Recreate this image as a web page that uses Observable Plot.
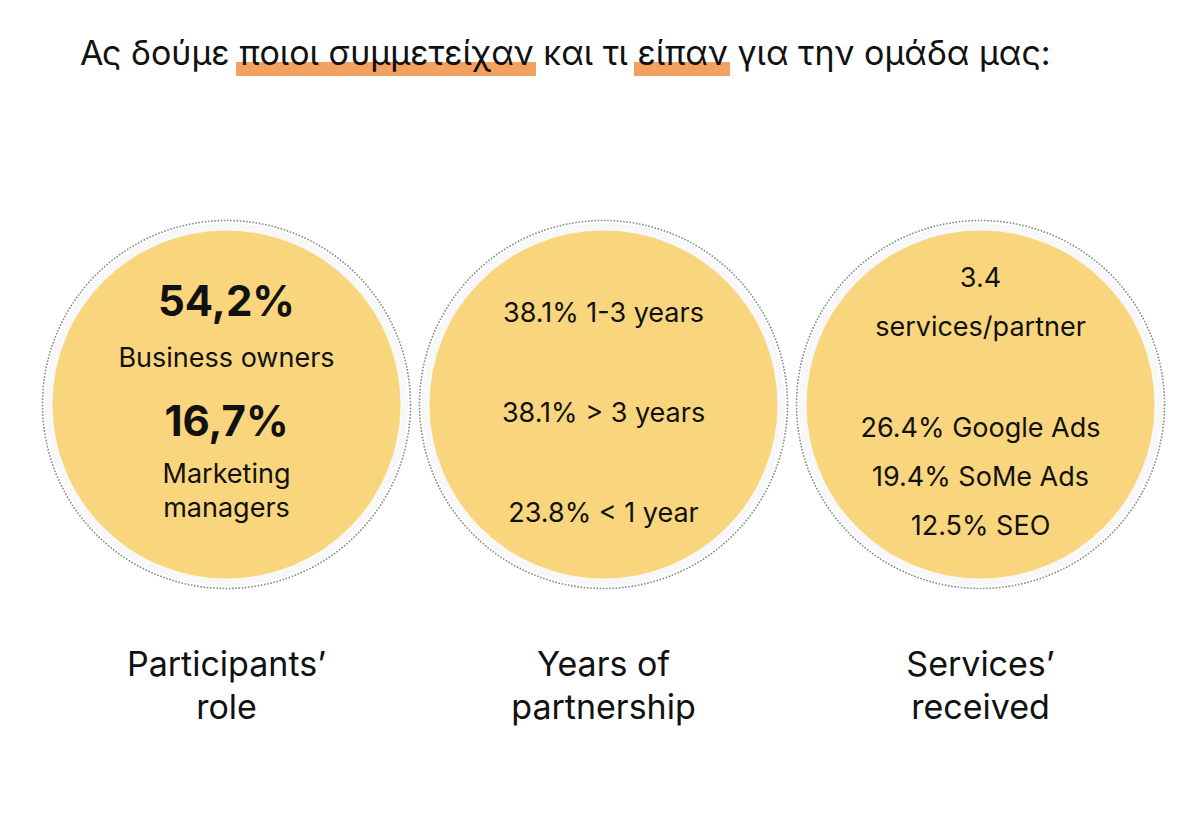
<!DOCTYPE html>
<html>
<head>
<meta charset="utf-8">
<script src="https://cdn.jsdelivr.net/npm/d3@7"></script>
<script src="https://cdn.jsdelivr.net/npm/@observablehq/plot@0.6"></script>
<style>
  html, body { margin: 0; padding: 0; background: #fff; }
  body { width: 1200px; height: 831px; overflow: hidden; font-family: Inter, "Noto Sans", sans-serif; }
  #title { position: relative; z-index: 0; height: 100px; box-sizing: border-box;
           padding: 33px 0 0 80px; font: 400 34px Inter, sans-serif; line-height: 40px; color: #111; white-space: nowrap; }
  .hl { position: relative; }
  .hl::before { content: ""; position: absolute; left: -3px; right: -2px; top: 30px; height: 14px;
                background: #F4A05E; z-index: -1; }
  #chart svg { display: block; }
</style>
</head>
<body>
<div id="title"></div>
<div id="chart"></div>
<script>
// ---- data ----
const titleParts = ["Ας δούμε ", "ποιοι συμμετείχαν", " και τι ", "είπαν", " για την ομάδα μας:"];
const highlighted = [false, true, false, true, false];

const panels = ["Participants’ role", "Years of partnership", "Services’ received"];
const panelLabels = ["Participants’\nrole", "Years of\npartnership", "Services’\nreceived"];

const roleShares = ["54,2%", "16,7%"];
const roleNames = ["Business owners", "Marketing\nmanagers"];

const yearShares = ["38.1%", "38.1%", "23.8%"];
const yearRanges = ["1-3 years", "> 3 years", "< 1 year"];

const servicesPerPartner = "3.4";
const servicesUnit = "services/partner";
const serviceShares = ["26.4%", "19.4%", "12.5%"];
const serviceNames = ["Google Ads", "SoMe Ads", "SEO"];

// ---- title ----
const title = document.getElementById("title");
titleParts.forEach((t, i) => {
  const s = document.createElement("span");
  s.textContent = t;
  if (highlighted[i]) s.className = "hl";
  title.appendChild(s);
});

// ---- layout (offsets from circle centre, px) ----
const bold = [], regular = [];
bold.push({panel: panels[0], y: -102, text: roleShares[0]});
regular.push({panel: panels[0], y: -48, text: roleNames[0]});
bold.push({panel: panels[0], y: 18, text: roleShares[1]});
regular.push({panel: panels[0], y: 85, text: roleNames[1]});
yearShares.forEach((v, i) => regular.push({panel: panels[1], y: -93 + i * 100, text: v + " " + yearRanges[i]}));
regular.push({panel: panels[2], y: -128, text: servicesPerPartner});
regular.push({panel: panels[2], y: -79, text: servicesUnit});
serviceShares.forEach((v, i) => regular.push({panel: panels[2], y: 22 + i * 49, text: v + " " + serviceNames[i]}));

const labels = panels.map((p, i) => ({panel: p, text: panelLabels[i]}));

const H = 731, CY = 304;
const circleMarks = panels.flatMap(p => [
  Plot.dot([p], {x: d => d, y: 0, r: 184, fill: "none", stroke: "#8a8a8a", strokeWidth: 1.6, strokeDasharray: "1.6,1.6"}),
  Plot.dot([p], {x: d => d, y: 0, r: 181, fill: "#F8F8F8", stroke: "#f0f0f0", strokeWidth: 0.5}),
  Plot.dot([p], {x: d => d, y: 0, r: 174, fill: "#F9D67D"})
]);

const chart = Plot.plot({
  width: 1200,
  height: H,
  margin: 0,
  x: {type: "point", domain: panels, range: [226, 980], padding: 0, axis: null},
  y: {domain: [-CY, H - CY], range: [0, H], axis: null},
  marks: [
    ...circleMarks,
    Plot.text(bold, {x: "panel", y: "y", text: "text", fontSize: 42, fontWeight: 700, fill: "#111", fontFamily: "Inter"}),
    Plot.text(regular, {x: "panel", y: "y", text: "text", fontSize: 27, fontWeight: 400, fill: "#111", fontFamily: "Inter", lineHeight: 1.25}),
    Plot.text(labels, {x: "panel", y: 279, text: "text", fontSize: 34, fontWeight: 400, fill: "#111", fontFamily: "Inter", lineHeight: 1.28})
  ]
});
document.getElementById("chart").appendChild(chart);
</script>
</body>
</html>
